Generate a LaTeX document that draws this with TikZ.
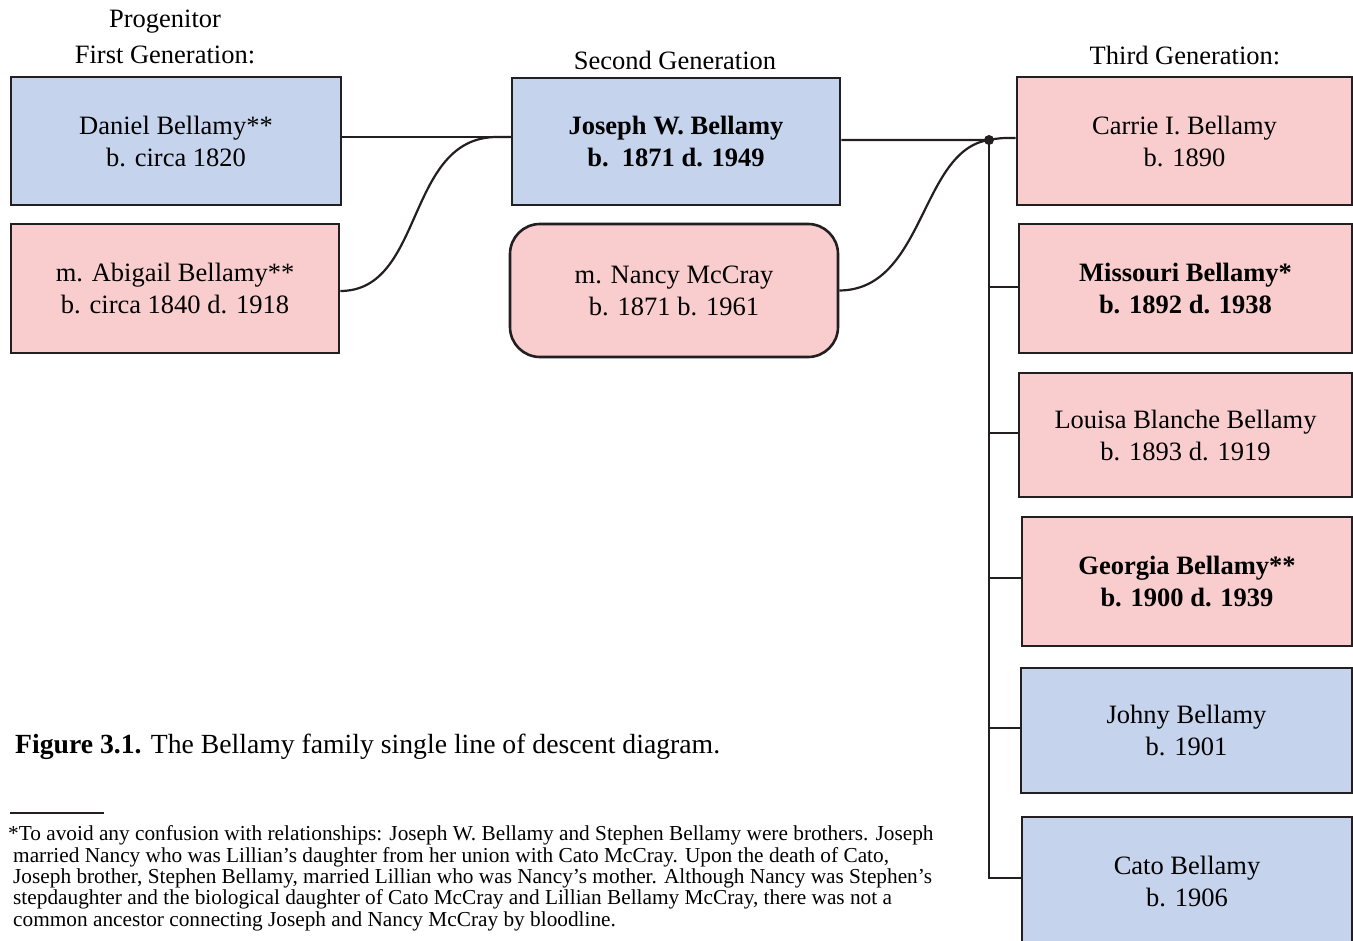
\documentclass[tikz,border=0pt]{standalone}
\usepackage{fontspec}
\setmainfont{Liberation Serif}
\definecolor{boxblue}{HTML}{C5D3EC}
\definecolor{boxpink}{HTML}{F9CDCD}
\definecolor{edge}{HTML}{231F20}
\begin{document}
\begin{tikzpicture}[x=1pt,y=-1pt,
  person/.style={draw=edge,line width=2.6pt,align=center,inner sep=0pt,
    font=\fontsize{26.5}{32}\selectfont},
  boldperson/.style={font=\fontsize{26.5}{32}\selectfont\bfseries},
  blue/.style={person,fill=boxblue},
  pink/.style={person,fill=boxpink},
  link/.style={draw=edge,line width=2.2pt},
  head/.style={font=\fontsize{26.5}{30}\selectfont,inner sep=0pt}]
\useasboundingbox (0,0) rectangle (1353,941);
% headers
\node[head] (h1a) at (165,22) {Progenitor};
\node[head] (h1b) at (165,55) {First Generation:};
\node[head] (h2) at (675,60) {Second Generation};
\node[head] (h3) at (1185,55) {Third Generation:};
% first generation
\node[blue,minimum width=330pt,minimum height=128pt] (daniel) at (176,141) {Daniel Bellamy**\\b. circa 1820};
\node[pink,minimum width=328pt,minimum height=129pt] (abigail) at (175,288.5) {m. Abigail Bellamy**\\b. circa 1840 d. 1918};
% second generation
\node[blue,boldperson,minimum width=328pt,minimum height=127pt] (joseph) at (676,141.5) {Joseph W. Bellamy\\b.\ \ 1871 d. 1949};
\node[pink,rounded corners=30pt,minimum width=328pt,minimum height=133pt] (nancy) at (674,290.5) {m. Nancy McCray\\b. 1871 b. 1961};
% third generation
\node[pink,minimum width=335pt,minimum height=128pt] (carrie) at (1184.5,141) {Carrie I. Bellamy\\b. 1890};
\node[pink,boldperson,minimum width=333pt,minimum height=129pt] (missouri) at (1185.5,288.5) {Missouri Bellamy*\\b. 1892 d. 1938};
\node[pink,minimum width=333pt,minimum height=124pt] (louisa) at (1185.5,435) {Louisa Blanche Bellamy\\b. 1893 d. 1919};
\node[pink,boldperson,minimum width=330pt,minimum height=129pt] (georgia) at (1187,581.5) {Georgia Bellamy**\\b. 1900 d. 1939};
\node[blue,minimum width=331pt,minimum height=125pt] (johny) at (1186.5,730.5) {Johny Bellamy\\b. 1901};
\node[blue,minimum width=330pt,minimum height=128pt] (cato) at (1187,881) {Cato Bellamy\\b. 1906};
% connectors
\coordinate (jn) at (989,140);
\draw[link] ([yshift=4pt]daniel.east) -- ([yshift=4.5pt]joseph.west);
\draw[link] ([yshift=-2.5pt]abigail.east) .. controls (425,291) and (405,137) .. (497,137) -- ([yshift=4.5pt]joseph.west);
\draw[link] ([yshift=1.5pt]joseph.east) -- (jn) .. controls (1000,138) .. ([yshift=3pt]carrie.west);
\draw[link] (nancy.east) .. controls (925,290) and (920,150) .. (jn);
\draw[link] (jn) |- ([yshift=3pt]cato.west);
\draw[link] ([yshift=1.5pt]jn |- missouri.west) -- ([yshift=1.5pt]missouri.west);
\draw[link] ([yshift=2pt]jn |- louisa.west) -- ([yshift=2pt]louisa.west);
\draw[link] ([yshift=3.5pt]jn |- georgia.west) -- ([yshift=3.5pt]georgia.west);
\draw[link] ([yshift=2.5pt]jn |- johny.west) -- ([yshift=2.5pt]johny.west);
\fill[edge] (jn) circle (5pt);
% caption
\node[anchor=west,inner sep=0pt,font=\fontsize{27.7}{30}\selectfont] (cap) at (15,747) {\textbf{Figure 3.1.} The Bellamy family single line of descent diagram.};
% footnote
\coordinate (r1) at (10,813);
\coordinate (r2) at (104,813);
\draw[edge,line width=1.6pt] (r1) -- (r2);
\node[anchor=north west,inner sep=0pt,align=left,font=\fontsize{21.3}{21.4}\selectfont] (fn) at (8,825.5) {*To avoid any confusion with relationships: Joseph W. Bellamy and Stephen Bellamy were brothers. Joseph\\
\hspace*{5pt}married Nancy who was Lillian’s daughter from her union with Cato McCray. Upon the death of Cato,\\
\hspace*{5pt}Joseph brother, Stephen Bellamy, married Lillian who was Nancy’s mother. Although Nancy was Stephen’s\\
\hspace*{5pt}stepdaughter and the biological daughter of Cato McCray and Lillian Bellamy McCray, there was not a\\
\hspace*{5pt}common ancestor connecting Joseph and Nancy McCray by bloodline.};
\end{tikzpicture}
\end{document}
